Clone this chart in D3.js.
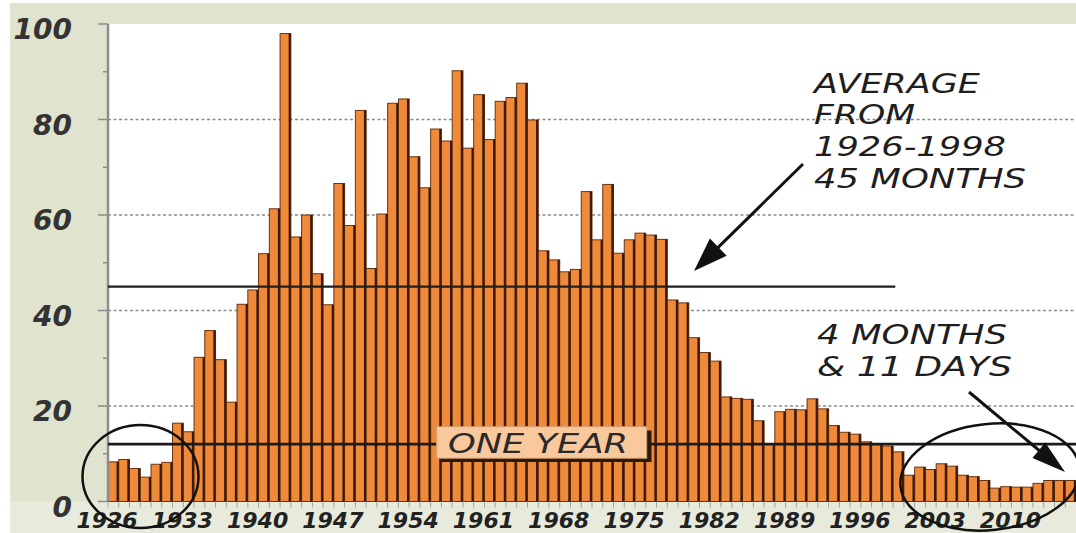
<!DOCTYPE html>
<html>
<head>
<meta charset="utf-8">
<script src="https://cdn.jsdelivr.net/npm/d3@7"></script>
<style>
html, body { margin: 0; padding: 0; background: #fff; }
svg { display: block; }
text { font-family: "DejaVu Sans", Verdana, sans-serif; font-style: italic; }
</style>
</head>
<body>
<div id="chart"></div>
<script>
// years on the x axis
var years = [1926,1927,1928,1929,1930,1931,1932,1933,1934,1935,1936,1937,1938,1939,
    1940,1941,1942,1943,1944,1945,1946,1947,1948,1949,1950,1951,1952,1953,1954,
    1955,1956,1957,1958,1959,1960,1961,1962,1963,1964,1965,1966,1967,1968,1969,
    1970,1971,1972,1973,1974,1975,1976,1977,1978,1979,1980,1981,1982,1983,1984,
    1985,1986,1987,1988,1989,1990,1991,1992,1993,1994,1995,1996,1997,1998,1999,
    2000,2001,2002,2003,2004,2005,2006,2007,2008,2009,2010,2011,2012,2013,2014,2015];

// average holding period, months
var months = [8.3,8.8,6.9,5.1,7.8,8.2,16.4,14.6,30.2,35.8,29.7,20.8,41.3,44.3,
    51.9,61.3,98.0,55.4,60.0,47.7,41.2,66.6,57.8,81.9,48.8,60.2,83.4,84.3,72.2,
    65.7,78.0,75.5,90.2,74.0,85.2,75.8,83.8,84.6,87.6,79.9,52.5,50.6,48.1,48.6,
    64.9,54.8,66.4,52.0,54.8,56.2,55.8,54.9,42.2,41.6,34.3,31.2,29.4,21.9,21.6,
    21.4,16.9,12.0,18.8,19.3,19.2,21.5,19.4,15.9,14.5,14.1,12.5,11.9,11.6,10.4,
    5.5,7.2,6.7,7.9,7.4,5.5,5.2,4.4,2.8,3.1,3.0,3.0,3.8,4.4,4.4,4.4];

var yTicks = [0, 20, 40, 60, 80, 100];
var yMinorTicks = [10, 30, 50, 70, 90];
var yGrid = [20, 40, 60, 80];
var xTickYears = [1926,1933,1940,1947,1954,1961,1968,1975,1982,1989,1996,2003,2010];

var averageMonths = 45, averageEndYear = 1999;
var oneYearMonths = 12;
var averageNote = ["AVERAGE", "FROM", "1926-1998", "45 MONTHS"];
var recentNote = ["4 MONTHS", "& 11 DAYS"];
var oneYearLabel = "ONE YEAR";

var data = years.map(function(yr, i) { return {year: yr, value: months[i]}; });

const W = 1076, H = 533;
const margin = {top: 24, right: 0, bottom: 31.5, left: 108};

var svg = d3.select("#chart").append("svg")
    .attr("width", W)
    .attr("height", H);

// beige frame behind the plot
svg.append("rect").attr("x", 10).attr("y", 3).attr("width", W - 10).attr("height", H - 3)
    .attr("fill", "#e0e3cd");
svg.append("rect").attr("x", 10).attr("y", H - margin.bottom).attr("width", W - 10).attr("height", margin.bottom)
    .attr("fill", "#e8ebdc");
svg.append("rect").attr("x", margin.left).attr("y", margin.top)
    .attr("width", W - margin.left - margin.right)
    .attr("height", H - margin.top - margin.bottom)
    .attr("fill", "#fff");

var x = d3.scaleBand().domain(years).range([margin.left, W - margin.right]).padding(0);
var y = d3.scaleLinear().domain([0, 100]).range([H - margin.bottom, margin.top]);

// dotted grid
svg.append("g").selectAll("line").data(yGrid).enter().append("line")
    .attr("x1", margin.left).attr("x2", W)
    .attr("y1", d => y(d)).attr("y2", d => y(d))
    .attr("stroke", "#8c8c8c").attr("stroke-width", 1.3)
    .attr("stroke-dasharray", "3,2.5");

// major / minor ticks on the y axis
svg.append("g").selectAll("line").data(yTicks).enter().append("line")
    .attr("x1", 98).attr("x2", margin.left)
    .attr("y1", d => y(d)).attr("y2", d => y(d))
    .attr("stroke", "#8c8c8c").attr("stroke-width", 1.5);
svg.append("g").selectAll("line").data(yMinorTicks).enter().append("line")
    .attr("x1", 103).attr("x2", margin.left)
    .attr("y1", d => y(d)).attr("y2", d => y(d))
    .attr("stroke", "#8c8c8c").attr("stroke-width", 1.5);

// bars
var bars = svg.append("g");
bars.selectAll("rect.bar").data(data).enter().append("rect")
    .attr("class", "bar")
    .attr("x", d => x(d.year))
    .attr("y", d => y(d.value))
    .attr("width", x.bandwidth())
    .attr("height", d => y(0) - y(d.value))
    .attr("fill", "#f08a3b")
    .attr("stroke", "#6a3312")
    .attr("stroke-width", 1);
bars.selectAll("rect.edge").data(data).enter().append("rect")
    .attr("class", "edge")
    .attr("x", d => x(d.year) + x.bandwidth() - 2.2)
    .attr("y", d => y(d.value))
    .attr("width", 2.2)
    .attr("height", d => y(0) - y(d.value))
    .attr("fill", "#3d1a06");

// y axis line
svg.append("line")
    .attr("x1", margin.left).attr("x2", margin.left)
    .attr("y1", margin.top).attr("y2", y(0))
    .attr("stroke", "#8d8d8d").attr("stroke-width", 2.5);

// small ticks under each bar
svg.append("g").selectAll("line").data(years).enter().append("line")
    .attr("x1", d => x(d)).attr("x2", d => x(d))
    .attr("y1", y(0)).attr("y2", y(0) + 6)
    .attr("stroke", "#a0a0a0").attr("stroke-width", 1);

// y labels
svg.append("g").selectAll("text").data(yTicks).enter().append("text")
    .attr("x", 72).attr("y", d => y(d) + 15)
    .attr("text-anchor", "end")
    .attr("font-size", 28).attr("font-weight", "bold")
    .attr("fill", "#333")
    .text(d => d);

// x labels
svg.append("g").selectAll("text").data(xTickYears).enter().append("text")
    .attr("x", d => x(d) - 1).attr("y", 528)
    .attr("text-anchor", "middle")
    .attr("font-size", 22).attr("font-weight", "bold")
    .attr("fill", "#222")
    .text(d => d);

// average line and one-year line
svg.append("line")
    .attr("x1", margin.left).attr("x2", x(averageEndYear) + x.bandwidth() * 0.2)
    .attr("y1", y(averageMonths)).attr("y2", y(averageMonths))
    .attr("stroke", "#1f1f1f").attr("stroke-width", 2.2);
svg.append("line")
    .attr("x1", margin.left).attr("x2", W)
    .attr("y1", y(oneYearMonths)).attr("y2", y(oneYearMonths))
    .attr("stroke", "#1a1a1a").attr("stroke-width", 2.8);

// "ONE YEAR" box
var box = svg.append("g");
box.append("rect").attr("x", 440.5).attr("y", 430.5).attr("width", 211).attr("height", 31.5)
    .attr("fill", "#2b1a10");
box.append("rect").attr("x", 436.7).attr("y", 426.7).attr("width", 210).attr("height", 31.5)
    .attr("fill", "#f9c89c").attr("stroke", "#d8a070").attr("stroke-width", 1);
box.append("text").attr("x", 448).attr("y", 452.5)
    .attr("font-size", 26).attr("fill", "#2a2a2a")
    .attr("textLength", 180).attr("lengthAdjust", "spacingAndGlyphs")
    .text(oneYearLabel);

// annotations
var avgY = [93, 124, 156, 188], avgLen = [166, 101, 192, 212];
svg.append("g").selectAll("text").data(averageNote).enter().append("text")
    .attr("x", 814).attr("y", (d, i) => avgY[i])
    .attr("font-size", 27).attr("fill", "#1e1e1e")
    .attr("textLength", (d, i) => avgLen[i]).attr("lengthAdjust", "spacingAndGlyphs")
    .text(d => d);

var recY = [344, 376], recLen = [190, 195];
svg.append("g").selectAll("text").data(recentNote).enter().append("text")
    .attr("x", 817).attr("y", (d, i) => recY[i])
    .attr("font-size", 27).attr("fill", "#1e1e1e")
    .attr("textLength", (d, i) => recLen[i]).attr("lengthAdjust", "spacingAndGlyphs")
    .text(d => d);

// circles round the low bars
svg.append("ellipse")
    .attr("cx", 140.5).attr("cy", 476.5).attr("rx", 58).attr("ry", 51.5)
    .attr("fill", "none").attr("stroke", "#111").attr("stroke-width", 2.5);
svg.append("ellipse")
    .attr("cx", 0).attr("cy", 0).attr("rx", 90).attr("ry", 53)
    .attr("transform", "translate(990,477) rotate(-6)")
    .attr("fill", "none").attr("stroke", "#111").attr("stroke-width", 2.5);

// arrows
function drawArrow(x1, y1, x2, y2, headLen, headW) {
    var dx = x2 - x1, dy = y2 - y1, len = Math.sqrt(dx * dx + dy * dy);
    var ux = dx / len, uy = dy / len;
    var bx = x2 - ux * headLen, by = y2 - uy * headLen;
    svg.append("line")
        .attr("x1", x1).attr("y1", y1).attr("x2", bx + ux * 2).attr("y2", by + uy * 2)
        .attr("stroke", "#111").attr("stroke-width", 3);
    svg.append("polygon")
        .attr("points", [[x2, y2], [bx - uy * headW, by + ux * headW], [bx + uy * headW, by - ux * headW]]
            .map(p => p.join(",")).join(" "))
        .attr("fill", "#111");
}
drawArrow(803, 164, 694, 271, 34, 12);
drawArrow(969, 392, 1065, 472, 34, 10);
</script>
</body>
</html>
